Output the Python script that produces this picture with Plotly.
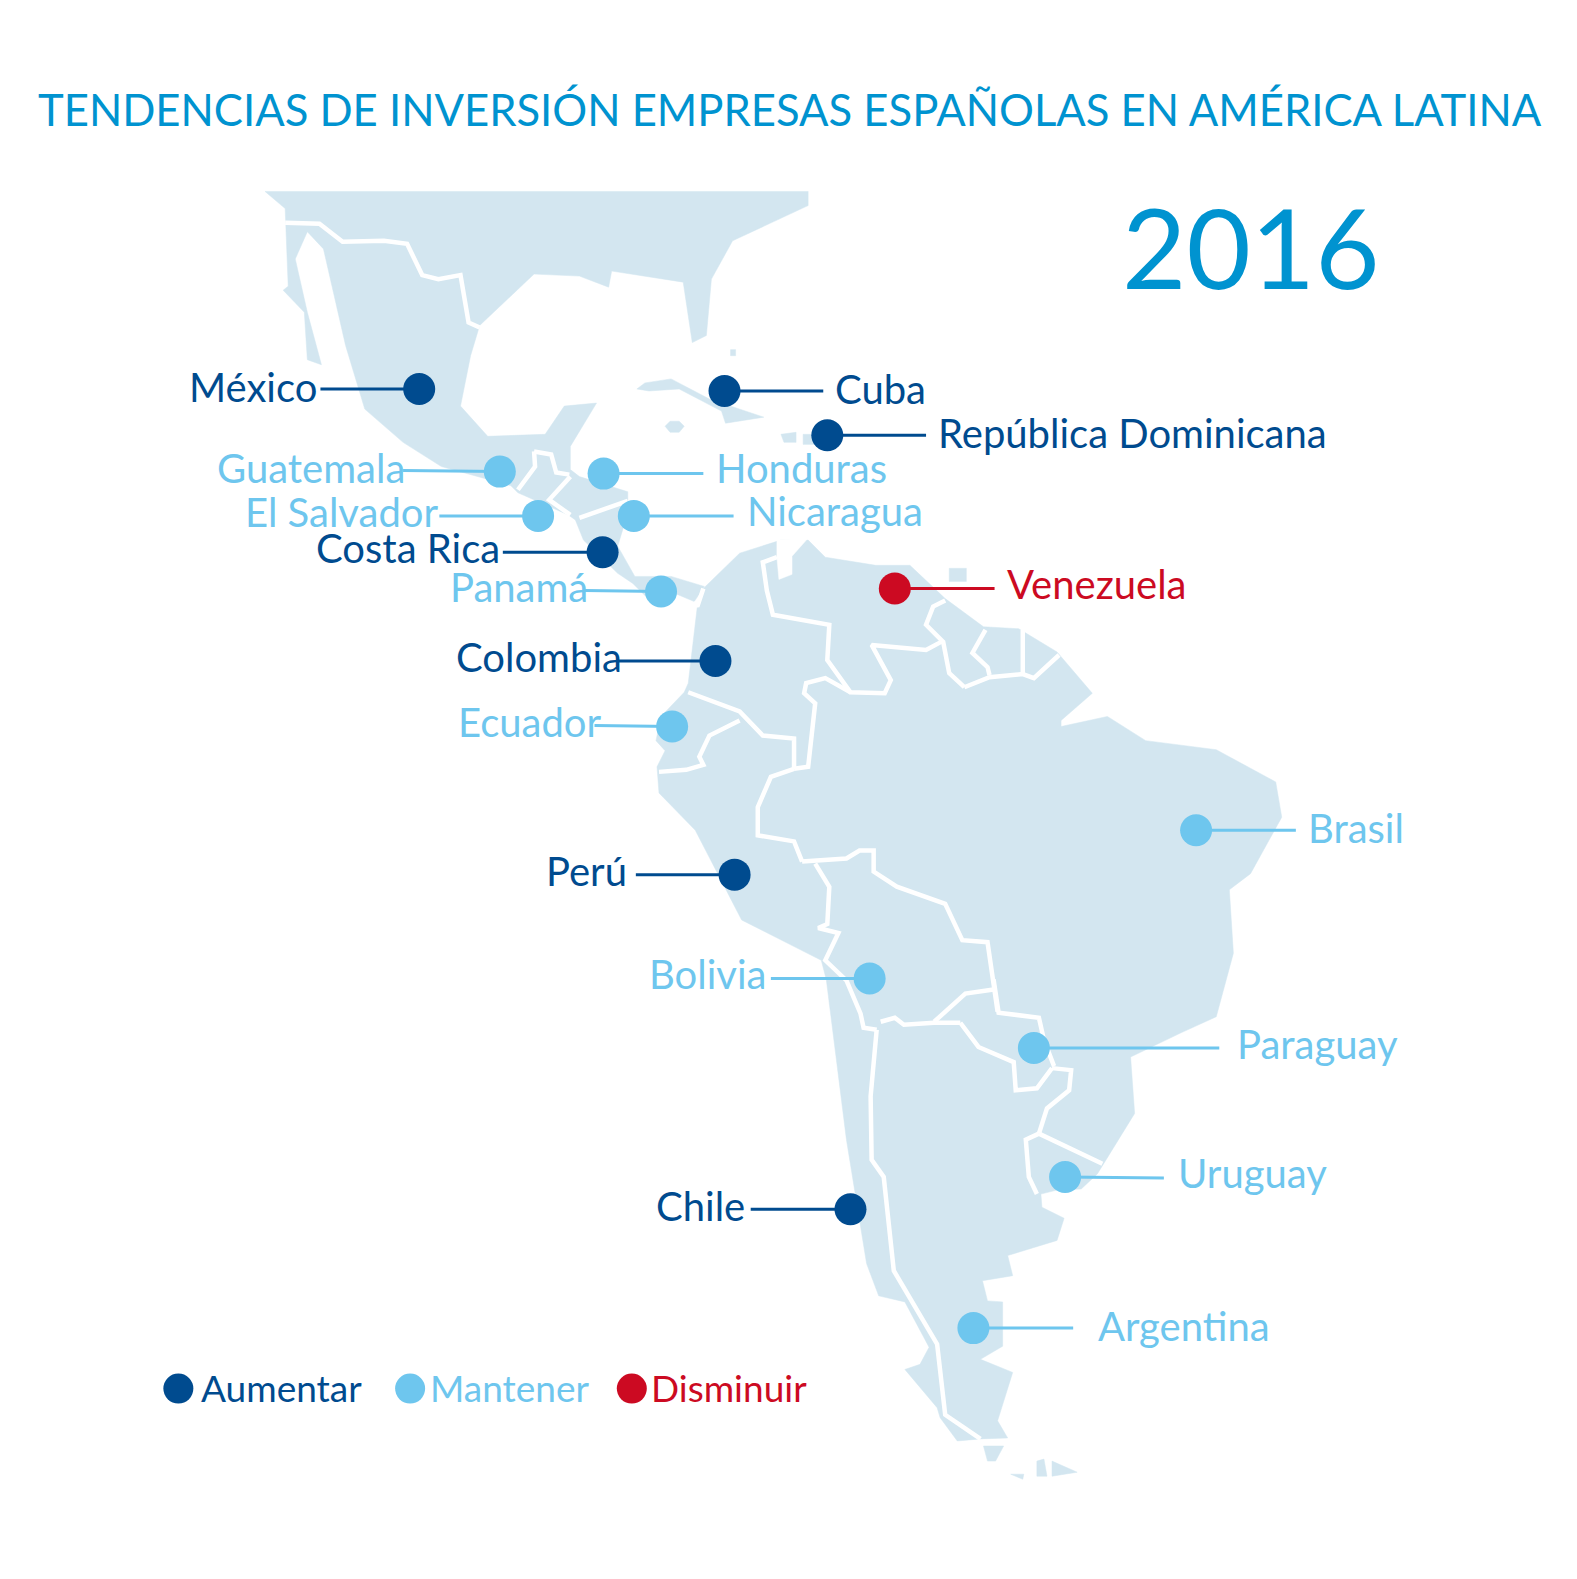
import plotly.graph_objects as go

TITLE = "TENDENCIAS DE INVERSIÓN EMPRESAS ESPAÑOLAS EN AMÉRICA LATINA"
YEAR = "2016"
FONT = "Lato"
LAND = "#d3e6f0"
COLORS = {"Aumentar": "#004b8f", "Mantener": "#6ec6ee", "Disminuir": "#cc0a22"}

# Country: status, point x/y, label side, label anchor x, label y, leader end x
countries = ["México", "Cuba", "República Dominicana", "Guatemala", "Honduras", "El Salvador", "Nicaragua",
             "Costa Rica", "Panamá", "Colombia", "Venezuela", "Ecuador", "Brasil", "Perú", "Bolivia",
             "Paraguay", "Uruguay", "Chile", "Argentina"]
status = ["Aumentar", "Aumentar", "Aumentar", "Mantener", "Mantener", "Mantener", "Mantener",
          "Aumentar", "Mantener", "Aumentar", "Disminuir", "Mantener", "Mantener", "Aumentar", "Mantener",
          "Mantener", "Mantener", "Aumentar", "Mantener"]
point_x = [416, 719, 821, 496, 599, 534, 629, 598, 656, 710, 888, 667, 1187, 729, 863, 1026, 1057, 844, 966]
point_y = [386, 388, 432, 468, 470, 512, 512, 548, 587, 656, 584, 721, 824, 868, 971, 1040, 1168, 1200, 1318]
label_side = ["right", "left", "left", "right", "left", "right", "left", "right", "right", "right", "left",
              "right", "left", "right", "right", "left", "left", "right", "left"]
label_x = [317, 827, 929, 404, 709, 438, 739, 498, 586, 619, 997, 599, 1296, 624, 762, 1226, 1167, 741, 1088]
label_y = [384, 386, 430, 464, 464, 508, 507, 544, 583, 652, 580, 717, 822, 864, 967, 1036, 1164, 1197, 1316]
leader_x = [318, 817, 919, 400, 698, 436, 728, 499, 580, 612, 987, 590, 1286, 631, 765, 1210, 1155, 745, 1065]
leader_y = [386, 388, 432, 467, 470, 512, 512, 548, 586, 656, 584, 720, 824, 868, 971, 1040, 1169, 1200, 1318]

legend_names = ["Aumentar", "Mantener", "Disminuir"]
legend_x = [177, 407, 627]
legend_text_x = [197, 425, 644]
legend_y = [1378, 1378, 1378]
legend_text_y = [1377, 1377, 1377]

# Land outlines in map units
north_america = [(263, 190), (802, 190), (802, 204), (727, 239), (706, 277), (701, 333), (687, 340), (678, 280),
                 (607, 269), (604, 285), (575, 274), (530, 272), (476, 323), (467, 353), (457, 403), (484, 433),
                 (541, 431), (560, 403), (592, 400), (566, 443), (566, 466), (575, 473), (623, 488), (623, 509),
                 (613, 542), (630, 572), (666, 572), (699, 582), (689, 597), (670, 589), (644, 595), (628, 579),
                 (613, 569), (579, 536), (571, 516), (564, 511), (514, 489), (507, 482), (438, 463), (400, 439),
                 (362, 406), (343, 343), (321, 247), (305, 230), (293, 257), (305, 310), (319, 362), (305, 357),
                 (302, 310), (281, 288), (286, 284), (283, 207)]
south_america = [(692, 602), (698, 584), (734, 549), (775, 536), (802, 536), (819, 553), (869, 561), (903, 561),
                 (938, 594), (976, 622), (1011, 624), (1049, 647), (1084, 688), (1053, 715), (1053, 721),
                 (1099, 711), (1137, 735), (1207, 744), (1266, 776), (1272, 811), (1241, 867), (1220, 883),
                 (1224, 946), (1207, 1009), (1172, 1025), (1122, 1049), (1126, 1105), (1096, 1153), (1089, 1165),
                 (1073, 1180), (1049, 1181), (1033, 1185), (1034, 1198), (1056, 1209), (1049, 1231), (1000, 1246),
                 (1005, 1266), (975, 1271), (980, 1291), (995, 1292), (995, 1336), (973, 1349), (1005, 1362),
                 (990, 1410), (1000, 1427), (973, 1428), (950, 1430), (933, 1407), (930, 1397), (898, 1359),
                 (913, 1354), (922, 1337), (898, 1292), (872, 1286), (860, 1254), (840, 1131), (820, 972),
                 (815, 953), (736, 913), (690, 824), (654, 787), (652, 761), (660, 745), (651, 735), (656, 711),
                 (679, 687), (683, 678)]
islands = [
    [(632, 386), (640, 380), (666, 376), (704, 396), (758, 414), (720, 420), (716, 408), (674, 386), (644, 388)],
    [(660, 423), (665, 418), (674, 418), (679, 423), (674, 429), (665, 429)],
    [(775, 431), (790, 429), (790, 439), (778, 439)],
    [(797, 431), (812, 431), (812, 441), (797, 441)],
    [(725, 347), (730, 347), (730, 353), (725, 353)],
    [(942, 564), (959, 564), (959, 577), (942, 577)],
    [(976, 1435), (996, 1435), (988, 1450), (980, 1450)],
    [(1003, 1463), (1016, 1463), (1015, 1468)],
    [(1029, 1450), (1036, 1448), (1039, 1465), (1029, 1465)],
    [(1044, 1450), (1069, 1461), (1044, 1465)],
]
maracaibo = [(771, 536), (771, 553), (773, 575), (786, 570), (786, 552), (802, 534)]

# White country borders
borders = [
    [(283, 221), (317, 222), (340, 240), (381, 239), (404, 242), (419, 273), (435, 277), (457, 273), (465, 320), (476, 325)],
    [(530, 448), (547, 451), (552, 469), (565, 471)],
    [(530, 448), (531, 463), (514, 486)],
    [(566, 473), (545, 496), (566, 511)],
    [(575, 514), (623, 497)],
    [(689, 597), (692, 602), (698, 584)],
    [(771, 553), (757, 558), (761, 586), (767, 610), (823, 620), (821, 655), (844, 687), (878, 688), (884, 675), (865, 640), (919, 645), (934, 637)],
    [(938, 596), (926, 602), (919, 620), (936, 637), (942, 668), (957, 682)],
    [(978, 625), (965, 648), (980, 662), (982, 670)],
    [(1015, 625), (1015, 670)],
    [(957, 682), (982, 672), (1015, 669), (1026, 673), (1051, 650)],
    [(844, 687), (819, 673), (800, 678), (798, 688), (809, 698), (802, 761), (788, 763)],
    [(788, 763), (788, 733), (757, 730), (734, 706), (683, 687)],
    [(734, 715), (704, 730), (694, 751), (698, 759), (681, 764), (654, 766)],
    [(788, 763), (765, 771), (752, 801), (752, 829), (788, 835), (796, 855)],
    [(796, 855), (840, 852), (853, 844), (867, 844), (867, 865), (890, 880), (938, 897), (955, 933), (980, 935), (990, 1004)],
    [(809, 857), (823, 880), (821, 917), (812, 921), (832, 926), (819, 953), (840, 973), (854, 1006), (857, 1020), (870, 1022)],
    [(870, 1022), (864, 1088), (865, 1151), (877, 1168), (887, 1261), (930, 1334), (938, 1404), (973, 1428)],
    [(975, 1431), (998, 1431)],
    [(874, 1014), (888, 1010), (897, 1017), (927, 1015), (953, 1015)],
    [(927, 1014), (958, 986), (986, 982)],
    [(986, 972), (991, 1005), (1031, 1010), (1036, 1032), (1046, 1058)],
    [(953, 1015), (971, 1039), (1006, 1054), (1008, 1082), (1029, 1080), (1044, 1060)],
    [(1044, 1060), (1063, 1062), (1061, 1082), (1039, 1100), (1031, 1125)],
    [(1031, 1125), (1094, 1155)],
    [(1031, 1125), (1018, 1131), (1021, 1168), (1029, 1185)],
]

fig = go.Figure()


def path(points, **kw):
    fig.add_trace(go.Scatter(x=[p[0] for p in points], y=[p[1] for p in points], mode="lines",
                             hoverinfo="skip", showlegend=False, **kw))


for poly in [north_america, south_america] + islands:
    path(poly + poly[:1], fill="toself", fillcolor=LAND, line=dict(color=LAND, width=0.5))
path(maracaibo + maracaibo[:1], fill="toself", fillcolor="white", line=dict(color="white", width=0.5))
for b in borders:
    path(b, line=dict(color="white", width=4.5))

# Leaders
for i, name in enumerate(countries):
    fig.add_trace(go.Scatter(x=[point_x[i], leader_x[i]], y=[point_y[i], leader_y[i]], mode="lines",
                             line=dict(color=COLORS[status[i]], width=3), hoverinfo="skip", showlegend=False))

# Points by status
for st in legend_names:
    idx = [i for i, s in enumerate(status) if s == st]
    fig.add_trace(go.Scatter(x=[point_x[i] for i in idx], y=[point_y[i] for i in idx], mode="markers",
                             name=st, text=[countries[i] for i in idx], hoverinfo="text",
                             marker=dict(color=COLORS[st], size=32), showlegend=False))
fig.add_trace(go.Scatter(x=legend_x, y=legend_y, mode="markers", hoverinfo="skip", showlegend=False,
                         marker=dict(color=[COLORS[n] for n in legend_names], size=30)))

annotations = []
for i, name in enumerate(countries):
    annotations.append(dict(x=label_x[i], y=label_y[i], text=name, showarrow=False, xanchor=label_side[i],
                            yanchor="middle", xref="x", yref="y",
                            font=dict(family=FONT, size=40, color=COLORS[status[i]])))
for n, x, y in zip(legend_names, legend_text_x, legend_text_y):
    annotations.append(dict(x=x, y=y, text=n, showarrow=False, xanchor="left", yanchor="middle", xref="x", yref="y",
                            font=dict(family=FONT, size=37, color=COLORS[n])))
annotations.append(dict(x=784, y=108, text=TITLE, showarrow=False, xanchor="center", yanchor="middle", xref="x",
                        yref="y", font=dict(family=FONT, size=43.6, color="#0093d0")))
annotations.append(dict(x=1241, y=244, text=YEAR, showarrow=False, xanchor="center", yanchor="middle", xref="x",
                        yref="y", font=dict(family=FONT, size=111, color="#0093d0")))

fig.update_layout(width=1577, height=1579, margin=dict(l=0, r=0, t=0, b=0), paper_bgcolor="white",
                  plot_bgcolor="white", showlegend=False, annotations=annotations,
                  xaxis=dict(range=[0, 1565], visible=False, fixedrange=True),
                  yaxis=dict(range=[1567, 0], visible=False, fixedrange=True))
fig.write_html("out.html", config={"displayModeBar": False},
               post_script="document.body.style.margin='0';document.documentElement.style.overflow='hidden';")
